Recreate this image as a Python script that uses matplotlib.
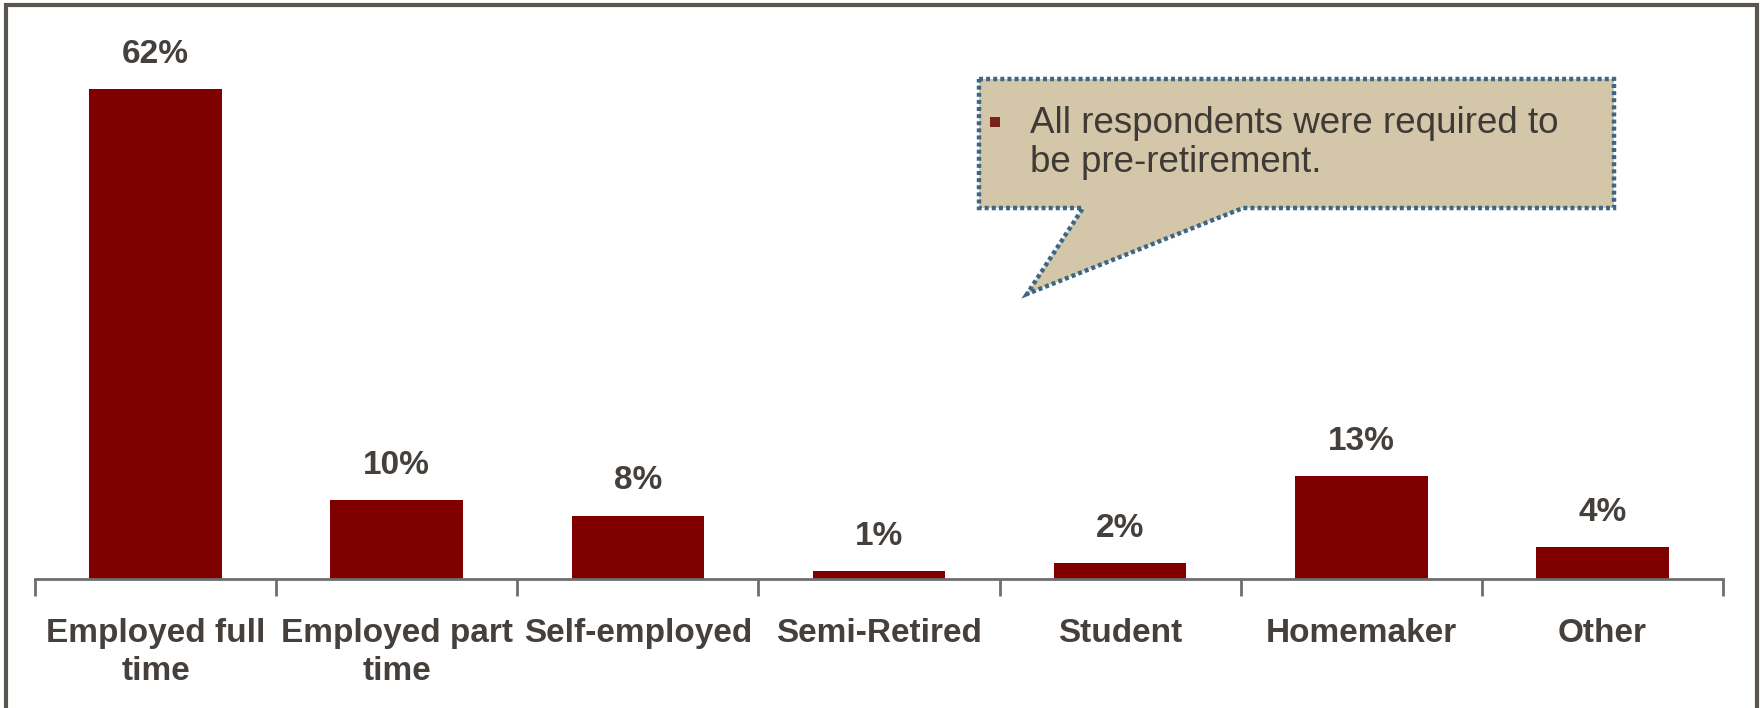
import matplotlib.pyplot as plt
from matplotlib.patches import Polygon, Rectangle
from matplotlib.ticker import FixedLocator

plt.rcParams['font.family'] = ['Liberation Sans', 'DejaVu Sans']

categories = ["Employed full\ntime", "Employed part\ntime", "Self-employed",
              "Semi-Retired", "Student", "Homemaker", "Other"]
shares = [62, 10, 8, 1, 2, 13, 4]
note = "All respondents were required to\nbe pre-retirement."

bar_color = "#800000"
text_color = "#45403c"

W, H = 1760, 708
fig = plt.figure(figsize=(W / 100, H / 100), dpi=100)

def fx(px):
    return px / W

def fy(py):
    return 1 - py / H

# outer frame (bottom edge falls off the page)
frame = Rectangle((fx(6), fy(740)), fx(1757) - fx(6), fy(5) - fy(740),
                  transform=fig.transFigure, fill=False,
                  edgecolor="#5a5550", linewidth=3, zorder=0)
fig.patches.append(frame)

ax = fig.add_axes([fx(35), fy(579), fx(1723) - fx(35), fy(26) - fy(579)])
x = range(len(categories))
ax.bar(x, shares, width=0.55, color=bar_color, zorder=2)
ax.set_xlim(-0.5, len(categories) - 0.5)
ax.set_ylim(0, 70)

for xi, v in zip(x, shares):
    ax.annotate(f"{v}%", (xi, v), xytext=(0, 14), textcoords="offset points",
                ha="center", va="bottom", fontsize=24, fontweight="bold",
                color=text_color)

for side in ["left", "right", "top"]:
    ax.spines[side].set_visible(False)
ax.spines["bottom"].set_color("#6e6e6e")
ax.spines["bottom"].set_linewidth(2)
ax.set_yticks([])

ax.set_xticks(list(x))
ax.set_xticklabels(categories, fontsize=24, fontweight="bold",
                   color=text_color, linespacing=1.3)
ax.tick_params(axis="x", which="major", length=0, pad=28)
ax.xaxis.set_minor_locator(FixedLocator([i - 0.5 for i in range(len(categories) + 1)]))
ax.tick_params(axis="x", which="minor", length=12, width=2, color="#6e6e6e")

# speech-bubble note
bubble = [(979, 79), (1614, 79), (1614, 208), (1243, 208), (1027, 294),
          (1083, 208), (979, 208)]
poly = Polygon([(fx(a), fy(b)) for a, b in bubble], closed=True,
               transform=fig.transFigure, facecolor="#d4c7a9",
               edgecolor="#3d6685", linewidth=3.2,
               linestyle=(0, (0.9, 0.7)), zorder=5)
poly.set_capstyle("butt")
fig.patches.append(poly)

fig.patches.append(Rectangle((fx(990), fy(127)), fx(10) - fx(0), fy(0) - fy(10),
                             transform=fig.transFigure, facecolor="#7b2318",
                             edgecolor="none", zorder=6))
fig.text(fx(1030), fy(143), note, fontsize=26.5, color="#3f3a36",
         ha="left", va="center", linespacing=1.15, zorder=6)

fig.savefig("out.png", dpi=100)
